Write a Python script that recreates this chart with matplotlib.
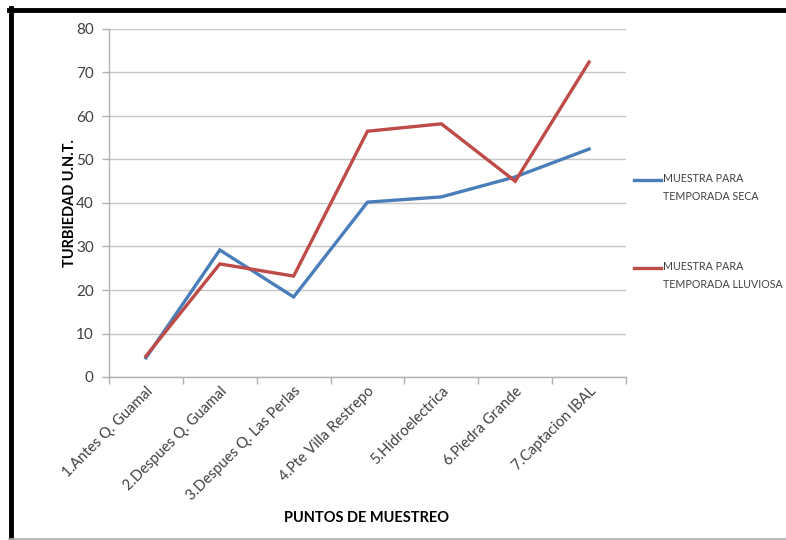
import matplotlib
matplotlib.use("Agg")
import matplotlib.pyplot as plt
from matplotlib.lines import Line2D

categories = [
    "1.Antes Q. Guamal",
    "2.Despues Q. Guamal",
    "3.Despues Q. Las Perlas",
    "4.Pte Villa Restrepo",
    "5.Hidroelectrica",
    "6.Piedra Grande",
    "7.Captacion IBAL",
]
seca = [4.4, 29.2, 18.4, 40.2, 41.4, 46.0, 52.4]
lluviosa = [4.8, 26.0, 23.2, 56.5, 58.2, 45.0, 72.4]
series_labels = ["MUESTRA PARA\nTEMPORADA SECA", "MUESTRA PARA\nTEMPORADA LLUVIOSA"]
yticks = [0, 10, 20, 30, 40, 50, 60, 70, 80]

plt.rcParams["font.family"] = ["Lato", "DejaVu Sans"]

W, H = 786, 540
fig = plt.figure(figsize=(W / 100, H / 100), dpi=100)

# axes box in pixel coordinates
x0, x1 = 109, 626
y_top, y_bot = 29, 377
ax = fig.add_axes([x0 / W, 1 - y_bot / H, (x1 - x0) / W, (y_bot - y_top) / H])

xs = list(range(len(categories)))
ax.plot(xs, seca, color="#4a7ebb", lw=2.4, solid_joinstyle="miter", zorder=3)
ax.plot(xs, lluviosa, color="#be4b48", lw=2.4, solid_joinstyle="miter", zorder=4)

ax.set_xlim(-0.5, len(categories) - 0.5)
ax.set_ylim(0, 80)
ax.set_yticks(yticks)
ax.grid(axis="y", color="#c6c6c6", lw=1.0)
ax.set_axisbelow(True)

for s in ["top", "right"]:
    ax.spines[s].set_visible(False)
for s in ["left", "bottom"]:
    ax.spines[s].set_color("#b0b0b0")
    ax.spines[s].set_linewidth(1.0)

ax.set_xticks(xs)
ax.set_xticklabels(categories, rotation=45, ha="right", rotation_mode="anchor",
                   fontsize=10.5, color="#404040")
ax.tick_params(axis="x", length=0, pad=5)
# category boundary tick marks
ax.set_xticks([i - 0.5 for i in range(len(categories) + 1)], minor=True)
ax.tick_params(axis="x", which="minor", length=5, color="#b0b0b0", width=1)
ax.tick_params(axis="y", length=5, color="#b0b0b0", width=1, labelsize=11,
               labelcolor="#404040", pad=6)

fig.text(70 / W, 1 - 203 / H, "TURBIEDAD U.N.T.", rotation=90, ha="center", va="center",
         fontsize=10.5, fontweight="bold")
fig.text(367 / W, 1 - 518 / H, "PUNTOS DE MUESTREO", ha="center", va="center",
         fontsize=10.5, fontweight="bold")

# legend drawn at fixed positions on the figure
for (ly, col, lab) in [(180, "#4a7ebb", series_labels[0]), (268, "#be4b48", series_labels[1])]:
    fig.add_artist(Line2D([634 / W, 661 / W], [1 - ly / H, 1 - ly / H], color=col, lw=2.4))
    fig.text(663 / W, 1 - (ly - 7) / H, lab, ha="left", va="top", fontsize=7.7,
             color="#404040", linespacing=1.8)

# outer frame
fig.add_artist(Line2D([9 / W, 1], [1 - 10 / H, 1 - 10 / H], color="black", lw=3.5))
fig.add_artist(Line2D([11 / W, 11 / W], [0, 1 - 8 / H], color="black", lw=3.5))
fig.add_artist(Line2D([9 / W, 1], [1 - 538.5 / H, 1 - 538.5 / H], color="#b0b0b0", lw=1.2))

fig.savefig("out.png", dpi=100)
